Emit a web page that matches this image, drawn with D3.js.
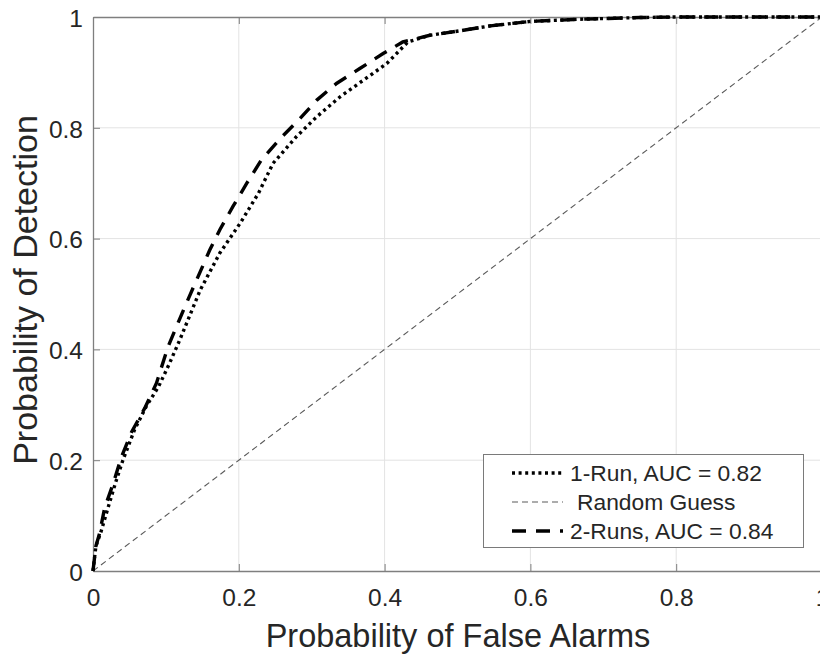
<!DOCTYPE html>
<html>
<head>
<meta charset="utf-8">
<script src="https://cdn.jsdelivr.net/npm/d3@7"></script>
<style>
  html, body { margin: 0; padding: 0; background: #fff; }
  svg { display: block; font-family: "Liberation Sans", Arial, Helvetica, sans-serif; }
</style>
</head>
<body>
<svg id="chart" width="820" height="655"></svg>
<script>
// ROC curve: false-alarm probability vs detection probability
const fpr1 = [0, 0.004, 0.011, 0.021, 0.032, 0.041, 0.057, 0.073, 0.090, 0.105, 0.119, 0.147, 0.174, 0.202, 0.227, 0.247, 0.279, 0.307, 0.339, 0.371, 0.403, 0.432, 0.462, 0.508, 0.545, 0.600, 0.668, 0.750, 0.800, 1.000];
const tpr1 = [0, 0.045, 0.071, 0.116, 0.164, 0.200, 0.255, 0.297, 0.333, 0.375, 0.417, 0.507, 0.574, 0.628, 0.682, 0.736, 0.784, 0.820, 0.856, 0.886, 0.916, 0.955, 0.967, 0.976, 0.984, 0.992, 0.996, 0.999, 1.000, 1.000];

const fpr2 = [0, 0.004, 0.009, 0.016, 0.027, 0.039, 0.053, 0.071, 0.087, 0.103, 0.126, 0.142, 0.160, 0.174, 0.192, 0.211, 0.231, 0.257, 0.282, 0.307, 0.334, 0.366, 0.398, 0.425, 0.462, 0.508, 0.545, 0.600, 0.668, 0.750, 0.800, 1.000];
const tpr2 = [0, 0.045, 0.068, 0.114, 0.155, 0.206, 0.251, 0.294, 0.339, 0.405, 0.477, 0.525, 0.579, 0.616, 0.658, 0.700, 0.742, 0.781, 0.814, 0.850, 0.880, 0.907, 0.934, 0.955, 0.967, 0.976, 0.984, 0.992, 0.996, 0.999, 1.000, 1.000];

const chanceX = [0, 1];
const chanceY = [0, 1];

const seriesLabels = ["1-Run, AUC = 0.82", "Random Guess", "2-Runs, AUC = 0.84"];
const tickValues = [0, 0.2, 0.4, 0.6, 0.8, 1];
const tickLabels = ["0", "0.2", "0.4", "0.6", "0.8", "1"];
const xTitle = "Probability of False Alarms";
const yTitle = "Probability of Detection";

const svg = d3.select("#chart");
const pLeft = 93, pTop = 17, pRight = 822, pBottom = 571;

const x = d3.scaleLinear().domain([0, 1]).range([pLeft, pRight]);
const y = d3.scaleLinear().domain([0, 1]).range([pBottom, pTop]);

const axisColor = "#7f7f7f";
const textColor = "#262626";

// grid
const grid = svg.append("g");
grid.selectAll("line.v").data(tickValues.slice(1, -1)).join("line")
  .attr("x1", d => x(d)).attr("x2", d => x(d))
  .attr("y1", pTop).attr("y2", pBottom)
  .attr("stroke", "#e3e3e3").attr("stroke-width", 1);
grid.selectAll("line.h").data(tickValues.slice(1, -1)).join("line")
  .attr("y1", d => y(d)).attr("y2", d => y(d))
  .attr("x1", pLeft).attr("x2", pRight)
  .attr("stroke", "#e3e3e3").attr("stroke-width", 1);

// axes with inward ticks
const fmt = d => tickLabels[tickValues.indexOf(d)];
const xAxis = svg.append("g").attr("transform", `translate(0,${pBottom})`)
  .call(d3.axisBottom(x).tickValues(tickValues).tickFormat(fmt).tickSizeInner(-7).tickSizeOuter(0).tickPadding(18));
const xTop = svg.append("g").attr("transform", `translate(0,${pTop})`)
  .call(d3.axisTop(x).tickValues(tickValues).tickFormat("").tickSizeInner(-7).tickSizeOuter(0));
const yAxis = svg.append("g").attr("transform", `translate(${pLeft},0)`)
  .call(d3.axisLeft(y).tickValues(tickValues).tickFormat(fmt).tickSizeInner(-7).tickSizeOuter(0).tickPadding(10));

[xAxis, xTop, yAxis].forEach(g => {
  g.select(".domain").attr("stroke", axisColor).attr("stroke-width", 1.3);
  g.selectAll(".tick line").attr("stroke", axisColor).attr("stroke-width", 1);
  g.selectAll(".tick text").attr("fill", textColor).style("font-size", "24.5px")
    .style("font-family", "'Liberation Sans', Arial, sans-serif");
});
yAxis.selectAll(".tick text").attr("dy", "0.38em");

// axis titles
svg.append("text").attr("x", 458).attr("y", 647)
  .attr("text-anchor", "middle").attr("fill", textColor)
  .style("font-size", "32.5px").text(xTitle);
svg.append("text")
  .attr("transform", `translate(37,290) rotate(-90)`)
  .attr("text-anchor", "middle").attr("fill", textColor)
  .style("font-size", "34px").text(yTitle);

// curves
const line = d3.line().x(d => x(d[0])).y(d => y(d[1]));
const zip = (a, b) => a.map((v, i) => [v, b[i]]);

const styles = [
  { data: zip(fpr1, tpr1), stroke: "#000", width: 3.4, dash: "3,3.6" },
  { data: zip(chanceX, chanceY), stroke: "#5a5a5a", width: 1.1, dash: "6,4" },
  { data: zip(fpr2, tpr2), stroke: "#000", width: 3.4, dash: "14,10" }
];

const plot = svg.append("g");
plot.append("clipPath").attr("id", "clip").append("rect")
  .attr("x", pLeft - 3).attr("y", pTop - 3).attr("width", pRight - pLeft + 6).attr("height", pBottom - pTop + 6);
const curves = plot.append("g").attr("clip-path", "url(#clip)");
[styles[1], styles[0], styles[2]].forEach(s => {
  curves.append("path").datum(s.data).attr("d", line)
    .attr("fill", "none").attr("stroke", s.stroke)
    .attr("stroke-width", s.width).attr("stroke-dasharray", s.dash);
});

// legend
const lg = svg.append("g");
lg.append("rect").attr("x", 483.5).attr("y", 454.5).attr("width", 320).attr("height", 93)
  .attr("fill", "#fff").attr("stroke", "#7a7a7a").attr("stroke-width", 1);
const rowY = [473, 502, 531];
const textX = [570, 577, 570];
seriesLabels.forEach((lab, i) => {
  const s = styles[i];
  lg.append("line").attr("x1", 512).attr("x2", 563).attr("y1", rowY[i]).attr("y2", rowY[i])
    .attr("stroke", s.stroke).attr("stroke-width", s.width).attr("stroke-dasharray", s.dash);
  lg.append("text").attr("x", textX[i]).attr("y", rowY[i]).attr("dy", "0.36em")
    .attr("fill", textColor).style("font-size", "22.8px").text(lab);
});
</script>
</body>
</html>
